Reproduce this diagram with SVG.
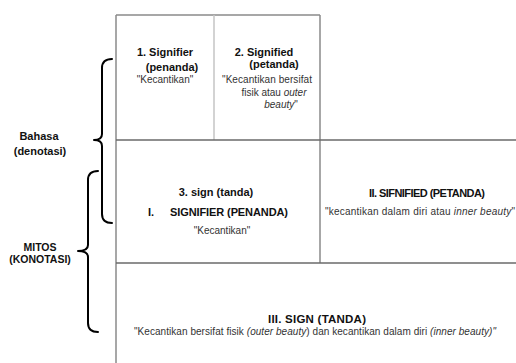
<svg xmlns="http://www.w3.org/2000/svg" width="516" height="363" viewBox="0 0 516 363">
<style>
text{font-family:"Liberation Sans",Arial,sans-serif;fill:#222;text-anchor:middle}
.b{font-weight:bold;font-size:11px;fill:#111}
.r{font-size:10px;fill:#333}
.i{font-style:italic}
.ln{stroke:#8a8a8a;stroke-width:1.5;fill:none}
.lt{stroke:#c4c4c4;stroke-width:1.5;fill:none}
.dk{stroke:#6a6a6a;stroke-width:1.5;fill:none}
.br{stroke:#000;stroke-width:2;fill:none;stroke-linecap:round;stroke-linejoin:round}
</style>
<rect width="516" height="363" fill="#fff"/>
<g id="grid">
<line class="ln" x1="116" y1="15" x2="320" y2="15"/>
<line class="ln" x1="116" y1="15" x2="116" y2="363"/>
<line class="lt" x1="214" y1="15" x2="214" y2="140"/>
<line class="ln" x1="320" y1="15" x2="320" y2="263"/>
<line class="dk" x1="116" y1="140" x2="516" y2="140"/>
<line class="dk" x1="116" y1="263" x2="516" y2="263"/>
</g>
<g id="connectors">
<path class="br" d="M112,59 Q102,59 102,68 L102,134 Q102,140 94,140 Q102,140 102,146 L102,214 Q102,223 112,223"/>
<path class="br" d="M98,171 Q88,171 88,180 L88,245 Q88,251 78,251 Q88,251 88,257 L88,323 Q88,332 98,332"/>
</g>
<g id="bahasa">
<text class="b" x="39" y="140">Bahasa</text>
<text class="b" x="40" y="155">(denotasi)</text>
</g>
<g id="mitos">
<text class="b" x="40" y="251" style="font-size:10.5px">MITOS</text>
<text class="b" x="40" y="263" style="font-size:10.5px">(KONOTASI)</text>
</g>
<g id="signifier">
<text class="b" x="165" y="56">1. Signifier</text>
<text class="b" x="172" y="71">(penanda)</text>
<text class="r" x="165" y="83">"Kecantikan"</text>
</g>
<g id="signified">
<text class="b" x="264" y="56">2. Signified</text>
<text class="b" x="274" y="68">(petanda)</text>
<text class="r" x="267" y="83" textLength="90">"Kecantikan bersifat</text>
<text class="r" x="274" y="96">fisik atau <tspan class="i">outer</tspan></text>
<text class="r" x="281" y="108"><tspan class="i">beauty</tspan>"</text>
</g>
<g id="sign-signifier">
<text class="b" x="216" y="196">3. sign (tanda)</text>
<text class="b" x="151" y="216">I.</text>
<text class="b" x="229" y="216" textLength="118">SIGNIFIER (PENANDA)</text>
<text class="r" x="222" y="234">"Kecantikan"</text>
</g>
<g id="sifnified">
<text class="b" x="427" y="197" textLength="116">II. SIFNIFIED (PETANDA)</text>
<text class="r" x="420" y="215" textLength="190">"kecantikan dalam diri atau <tspan class="i">inner beauty</tspan>"</text>
</g>
<g id="sign">
<text class="b" x="317" y="323" textLength="98" style="font-size:11.5px">III. SIGN (TANDA)</text>
<text class="r" x="315" y="335" textLength="362">"Kecantikan bersifat fisik <tspan class="i">(outer beauty</tspan>) dan kecantikan dalam diri <tspan class="i">(inner beauty)"</tspan></text>
</g>
</svg>
